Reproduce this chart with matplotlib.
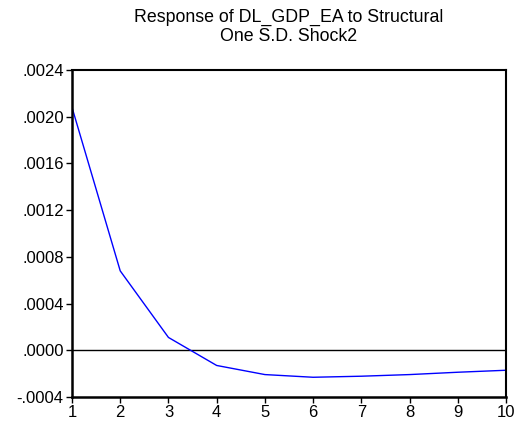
import matplotlib
matplotlib.use("Agg")
import matplotlib.pyplot as plt
from matplotlib.ticker import FuncFormatter

periods = [1, 2, 3, 4, 5, 6, 7, 8, 9, 10]
response = [0.00208, 0.00068, 0.00011, -0.00013, -0.000208, -0.000231,
            -0.000222, -0.000208, -0.000188, -0.000171]
yticks = [-0.0004, 0.0, 0.0004, 0.0008, 0.0012, 0.0016, 0.0020, 0.0024]

plt.rcParams['font.family'] = ['Liberation Sans', 'DejaVu Sans']

fig = plt.figure(figsize=(5.16, 4.25), dpi=100)
ax = fig.add_axes([72 / 516, 1 - 397 / 425, (506 - 72) / 516, (397 - 70) / 425])

ax.axhline(0, color='black', linewidth=1)
ax.plot(periods, response, color='#0000ff', linewidth=1)

ax.set_xlim(1, 10)
ax.set_ylim(-0.0004, 0.0024)
ax.set_xticks(periods)
ax.set_yticks(yticks)


def fmt(v, pos):
    s = f"{v:.4f}"
    return s.replace("0.", ".", 1)


ax.yaxis.set_major_formatter(FuncFormatter(fmt))
ax.tick_params(direction='out', length=4, width=1, labelsize=12, pad=2)
for side in ['left', 'bottom']:
    ax.spines[side].set_linewidth(1.8)
for side in ['top', 'right']:
    ax.spines[side].set_linewidth(1.5)

fig.text(0.56, 1 - 27 / 425, "Response of DL_GDP_EA to Structural\nOne S.D. Shock2",
         ha='center', va='center', fontsize=12.8, linespacing=1.2)

fig.savefig("out.png", dpi=100)
